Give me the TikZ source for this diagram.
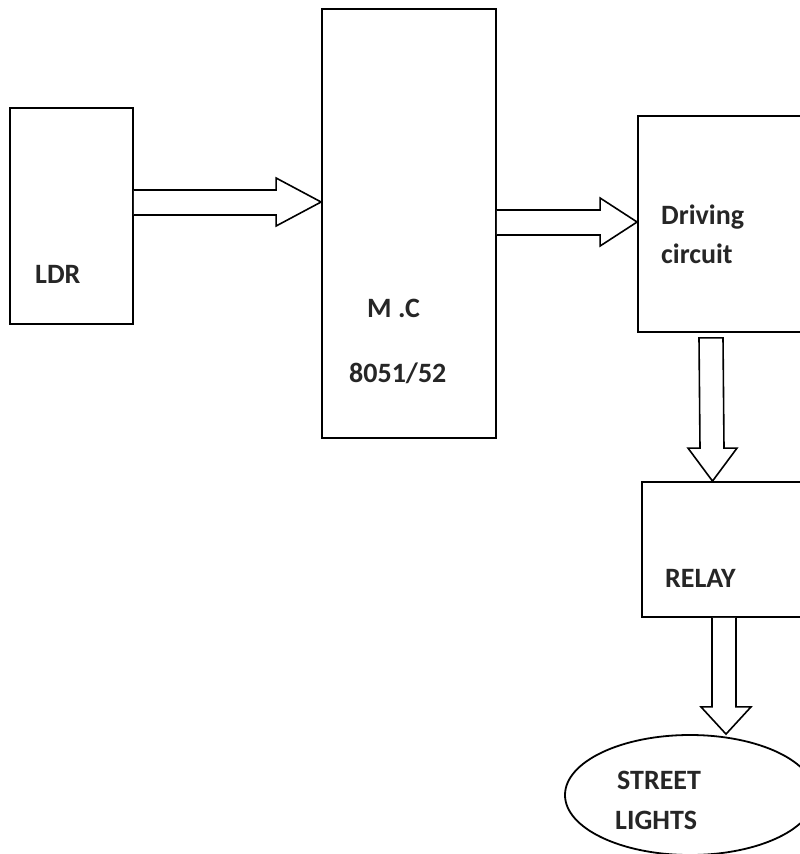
\documentclass[tikz,border=0pt]{standalone}
\usepackage{fontspec}
\setmainfont{Carlito}
\usetikzlibrary{calc,shapes.geometric}
\begin{document}
\begin{tikzpicture}[x=1pt,y=-1pt,
  box/.style={draw,line width=1.8pt,minimum width=#1,inner sep=0pt},
  blk/.style={draw,line width=1.6pt,line join=miter,fill=white},
  lbl/.style={anchor=base west,inner sep=0pt,font=\fontsize{28}{30}\selectfont\bfseries,text=black!85}]
\useasboundingbox (0,0) rectangle (800,854);
\clip (0,0) rectangle (800,854);
\fill[white] (0,0) rectangle (800,854);
% boxes
\node[box=123pt,minimum height=216pt] (ldr) at (71.5,216) {};
\node[box=174pt,minimum height=429pt] (mc) at (409,223.5) {};
\node[box=192pt,minimum height=216pt] (drv) at (734,224) {};
\node[box=188pt,minimum height=135pt] (rel) at (736,549.5) {};
\node[draw,line width=1.8pt,ellipse,minimum width=250pt,minimum height=120pt,inner sep=0pt] (sl) at (690,795) {};
% texts
\node[lbl] (tldr) at (35,283) {LDR};
\node[lbl] (tmc) at (367,317) {M .C};
\node[lbl] (tmcn) at (349,382) {8051/52};
\node[lbl] (tdrv) at (661,224) {Driving};
\node[lbl] (tcir) at (661,263) {circuit};
\node[lbl] (trel) at (665,587) {RELAY};
\node[lbl] (tst) at (617,789) {STREET};
\node[lbl] (tli) at (615,829) {LIGHTS};
% block arrows
\coordinate (a1) at (ldr.east |- 0,202);
\coordinate (b1) at (mc.west |- 0,202);
\draw[blk] ($(a1)+(0,-12)$) -- ($(b1)+(-45,-12)$) -- ($(b1)+(-45,-24)$) -- (b1)
  -- ($(b1)+(-45,24)$) -- ($(b1)+(-45,13)$) -- ($(a1)+(0,13)$);
\coordinate (a2) at (mc.east |- 0,222);
\coordinate (b2) at (drv.west |- 0,222);
\draw[blk] ($(a2)+(0,-12)$) -- ($(b2)+(-37,-12)$) -- ($(b2)+(-37,-24)$) -- (b2)
  -- ($(b2)+(-37,24)$) -- ($(b2)+(-37,13)$) -- ($(a2)+(0,13)$);
\coordinate (a3) at ($(drv.south -| 711,0)+(0,5)$);
\coordinate (b3) at (rel.north -| 712.5,0);
\draw[blk] ($(a3)+(-12,0)$) -- ($(b3)+(-12.5,-33)$) -- ($(b3)+(-24.5,-33)$) -- (b3)
  -- ($(b3)+(24.5,-33)$) -- ($(b3)+(11.5,-33)$) -- ($(a3)+(12,0)$) -- cycle;
\coordinate (a4) at (rel.south -| 724,0);
\coordinate (b4) at (sl.north -| 726,0);
\draw[blk] ($(a4)+(-12,0)$) -- ($(a4)+(-12,89)$) -- ($(a4)+(-23,89)$) -- (b4)
  -- ($(a4)+(27,89)$) -- ($(a4)+(12,89)$) -- ($(a4)+(12,0)$);
\end{tikzpicture}
\end{document}
